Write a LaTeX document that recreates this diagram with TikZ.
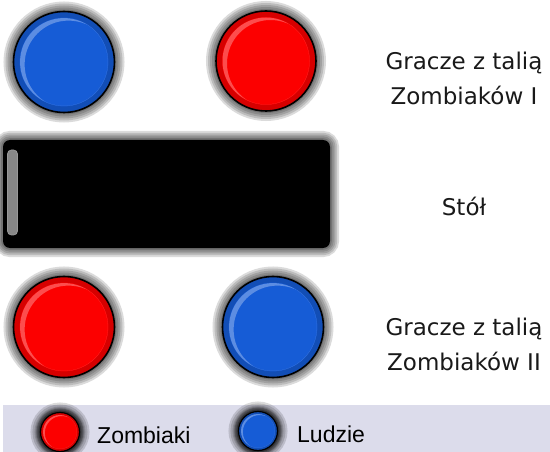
\documentclass[tikz,border=0pt]{standalone}
\usepackage{fontspec}
\setmainfont{DejaVu Sans}
\newfontfamily\legendfont{Liberation Sans}
\usetikzlibrary{calc}
\definecolor{ballblue}{RGB}{22,92,214}
\definecolor{ballred}{RGB}{252,0,0}
\definecolor{legendbg}{RGB}{220,220,235}
\definecolor{barcol}{RGB}{135,135,135}
\tikzset{
  glow/.style={
    preaction={draw=black, draw opacity=.14, line width=2.0*#1},
    preaction={draw=black, draw opacity=.14, line width=1.6*#1},
    preaction={draw=black, draw opacity=.14, line width=1.2*#1},
    preaction={draw=black, draw opacity=.14, line width=0.8*#1},
    preaction={draw=black, draw opacity=.16, line width=0.4*#1}},
  ball/.style={circle, inner sep=0pt, draw=black, line width=1.6pt, fill=#1, glow=10pt,
    path picture={
      \draw[black, draw opacity=.15] let \p1=(path picture bounding box.center),
            \p2=(path picture bounding box.east), \n1={\x2-\x1} in
            [line width=0.12*\n1] (\p1) circle[radius=0.94*\n1];
      \begin{scope}
        \clip let \p1=(path picture bounding box.center),
            \p2=(path picture bounding box.east), \n1={\x2-\x1} in
            (\p1) circle[radius=0.87*\n1];
        \fill[white, fill opacity=.3, even odd rule] let \p1=(path picture bounding box.center),
            \p2=(path picture bounding box.east), \n1={\x2-\x1} in
            (\p1) circle[radius=0.87*\n1]
            ({\x1+0.09*\n1},{\y1-0.05*\n1}) circle[radius=0.87*\n1];
      \end{scope}
    }},
  tablebox/.style={rectangle, rounded corners=7pt, fill=black, inner sep=0pt,
    minimum width=327pt, minimum height=108pt, glow=9pt},
  tablehl/.style={rectangle, rounded corners=4pt, inner sep=0pt, fill=barcol,
    draw=black!40, line width=0.8pt, minimum width=10pt, minimum height=85pt},
  legendbar/.style={rectangle, fill=legendbg, inner sep=0pt,
    minimum width=547pt, minimum height=47pt},
  labeltext/.style={align=center, inner sep=0pt, text=black!90,
    font=\fontsize{23}{35}\selectfont},
  legendtext/.style={inner sep=0pt, text=black,
    font=\legendfont\fontsize{23}{28}\selectfont},
}
\begin{document}
\begin{tikzpicture}[x=1pt,y=-1pt]
\useasboundingbox (0,0) rectangle (550,452);
\fill[white] (0,0) rectangle (550,452);
% players top
\node[ball=ballblue, minimum size=101pt] (p1) at (64,62) {};
\node[ball=ballred, minimum size=100pt] (p2) at (266,61) {};
% table
\node[tablebox] (table) at (166.5,194) {};
\node[tablehl] (tablehl) at (12.5,192.5) {};
% players bottom
\node[ball=ballred, minimum size=101pt] (p3) at (64,327) {};
\node[ball=ballblue, minimum size=101pt] (p4) at (273,327) {};
% labels
\node[labeltext, anchor=base] (t1) at (464,105) {Gracze z talią\\Zombiaków I};
\node[labeltext, anchor=base] (t2) at (464,215) {Stół};
\node[labeltext, anchor=base] (t3) at (464,370) {Gracze z talią\\Zombiaków II};
% legend
\node[legendbar] (legend) at (276.5,428.5) {};
\node[ball=ballred, minimum size=39pt, line width=1.2pt, glow=5pt] (lr) at (60,432) {};
\node[legendtext, anchor=base west] (lzt) at (97,443) {Zombiaki};
\node[ball=ballblue, minimum size=39pt, line width=1.2pt, glow=5pt] (lb) at (258,431) {};
\node[legendtext, anchor=base west] (llt) at (297,442) {Ludzie};
\end{tikzpicture}
\end{document}
